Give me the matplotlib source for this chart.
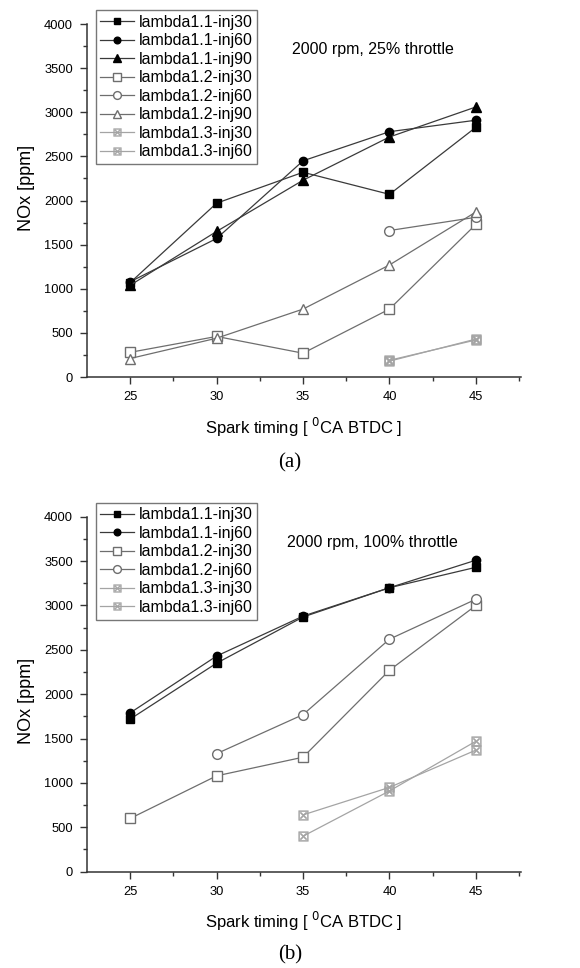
import matplotlib
matplotlib.use("Agg")
import matplotlib.pyplot as plt

plt.rcParams['font.family'] = ['Liberation Sans', 'DejaVu Sans']

timing = [25, 30, 35, 40, 45]

# panel (a): 2000 rpm, 25% throttle
a_l11_inj30 = [1070, 1970, 2320, 2070, 2830]
a_l11_inj60 = [1080, 1570, 2450, 2780, 2910]
a_l11_inj90 = [1040, 1650, 2230, 2720, 3060]
a_l12_inj30 = [280, 460, 270, 770, 1730]
a_l12_inj60 = [None, None, None, 1660, 1810]
a_l12_inj90 = [210, 440, 770, 1270, 1870]
a_l13_inj30 = [None, None, None, 180, 430]
a_l13_inj60 = [None, None, None, 190, 420]

# panel (b): 2000 rpm, 100% throttle
b_l11_inj30 = [1720, 2350, 2870, 3200, 3430]
b_l11_inj60 = [1790, 2430, 2880, 3200, 3510]
b_l12_inj30 = [600, 1080, 1290, 2270, 3000]
b_l12_inj60 = [None, 1330, 1770, 2620, 3070]
b_l13_inj30 = [None, None, 640, 950, 1370]
b_l13_inj60 = [None, None, 400, 910, 1470]

C11, C12, C13 = '#3a3a3a', '#6e6e6e', '#a4a4a4'

styles = {
    'lambda1.1-inj30': dict(color=C11, marker='s', mfc='black', mec='black', ms=5.5),
    'lambda1.1-inj60': dict(color=C11, marker='o', mfc='black', mec='black', ms=6),
    'lambda1.1-inj90': dict(color=C11, marker='^', mfc='black', mec='black', ms=6.5),
    'lambda1.2-inj30': dict(color=C12, marker='s', mfc='white', mec=C12, ms=6.5),
    'lambda1.2-inj60': dict(color=C12, marker='o', mfc='white', mec=C12, ms=7),
    'lambda1.2-inj90': dict(color=C12, marker='^', mfc='white', mec=C12, ms=7.5),
    'lambda1.3-inj30': dict(color=C13, marker=r'$\boxtimes$', mfc=C13, mec=C13, ms=7, mew=0.3),
    'lambda1.3-inj60': dict(color=C13, marker=r'$\boxtimes$', mfc=C13, mec=C13, ms=7, mew=0.3),
}


def draw_series(ax, name, vals):
    xs = [x for x, v in zip(timing, vals) if v is not None]
    ys = [v for v in vals if v is not None]
    ax.plot(xs, ys, lw=0.9, label=name, **styles[name])


def style_axes(ax, note, ylab_y):
    ax.set_xlim(22.5, 47.6)
    ax.set_ylim(0, 4000)
    ax.set_xticks(timing)
    ax.set_xticks([27.5, 32.5, 37.5, 42.5, 47.5], minor=True)
    ax.set_yticks(range(0, 4001, 500))
    ax.set_yticks(range(250, 4000, 500), minor=True)
    for s in ('top', 'right'):
        ax.spines[s].set_visible(False)
    for s in ('left', 'bottom'):
        ax.spines[s].set_linewidth(1.1)
        ax.spines[s].set_color('#333333')
    ax.tick_params(which='major', length=5, width=1, color='#333333',
                   labelsize=9.3, pad=5)
    ax.tick_params(which='minor', length=3, width=1, color='#333333')
    ax.set_ylabel('NOx [ppm]', fontsize=13)
    ax.yaxis.set_label_coords(-0.12, ylab_y)
    ax.set_xlabel(r'Spark timing [ $^{0}$CA BTDC ]', fontsize=12, labelpad=9)
    ax.text(0.658, 0.928, note, transform=ax.transAxes, ha='center', va='center',
            fontsize=11.5)
    leg = ax.legend(loc='upper left', bbox_to_anchor=(0.02, 1.04), fontsize=11.5,
                    frameon=True, fancybox=False, edgecolor='#777777',
                    framealpha=1, borderpad=0.3, labelspacing=0.22,
                    handlelength=2.1, handletextpad=0.3, borderaxespad=0,
                    markerscale=0.8)
    leg.get_frame().set_linewidth(1.0)


fig = plt.figure(figsize=(5.8, 9.68), dpi=100)
ax1 = fig.add_axes([0.15, 0.6105, 0.748, 0.3647])
ax2 = fig.add_axes([0.15, 0.0995, 0.748, 0.3667])

draw_series(ax1, 'lambda1.1-inj30', a_l11_inj30)
draw_series(ax1, 'lambda1.1-inj60', a_l11_inj60)
draw_series(ax1, 'lambda1.1-inj90', a_l11_inj90)
draw_series(ax1, 'lambda1.2-inj30', a_l12_inj30)
draw_series(ax1, 'lambda1.2-inj60', a_l12_inj60)
draw_series(ax1, 'lambda1.2-inj90', a_l12_inj90)
draw_series(ax1, 'lambda1.3-inj30', a_l13_inj30)
draw_series(ax1, 'lambda1.3-inj60', a_l13_inj60)
style_axes(ax1, '2000 rpm, 25% throttle', 0.535)

draw_series(ax2, 'lambda1.1-inj30', b_l11_inj30)
draw_series(ax2, 'lambda1.1-inj60', b_l11_inj60)
draw_series(ax2, 'lambda1.2-inj30', b_l12_inj30)
draw_series(ax2, 'lambda1.2-inj60', b_l12_inj60)
draw_series(ax2, 'lambda1.3-inj30', b_l13_inj30)
draw_series(ax2, 'lambda1.3-inj60', b_l13_inj60)
style_axes(ax2, '2000 rpm, 100% throttle', 0.48)

fig.text(0.5, 1 - 463 / 968, '(a)', ha='center', va='center', fontsize=15,
         family='Liberation Serif')
fig.text(0.5, 1 - 955 / 968, '(b)', ha='center', va='center', fontsize=15,
         family='Liberation Serif')

fig.savefig('out.png', dpi=100)
